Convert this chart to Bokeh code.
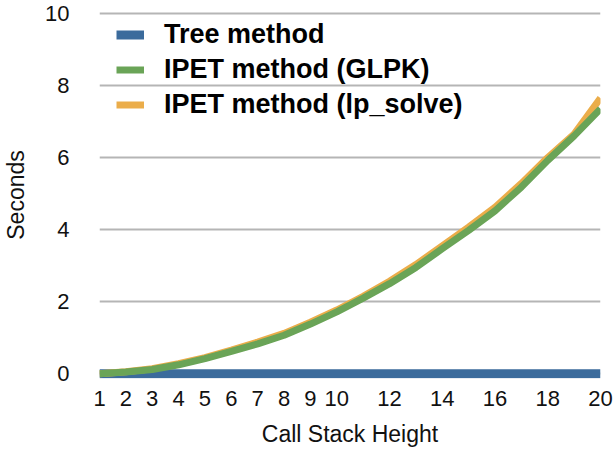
from bokeh.plotting import figure
from bokeh.models import Legend, LegendItem, FixedTicker, Range1d
from bokeh.embed import file_html
from bokeh.resources import INLINE

x = list(range(1, 21))
tree = [0.0] * 20
glpk = [0.0, 0.05, 0.12, 0.25, 0.42, 0.62, 0.83, 1.07, 1.38, 1.72,
        2.1, 2.5, 2.95, 3.47, 3.98, 4.52, 5.18, 5.92, 6.6, 7.35]
lpsolve = [0.0, 0.06, 0.14, 0.28, 0.45, 0.66, 0.88, 1.12, 1.43, 1.77,
           2.15, 2.57, 3.03, 3.55, 4.07, 4.62, 5.28, 6.0, 6.65, 7.65]
x_ticks = [1, 2, 3, 4, 5, 6, 7, 8, 9, 10, 12, 14, 16, 18, 20]
y_ticks = [0, 2, 4, 6, 8, 10]

FONT = "Liberation Sans"

p = figure(width=613, height=454, output_backend="svg", toolbar_location=None,
           x_range=Range1d(1, 20), y_range=Range1d(-0.13, 10.05),
           min_border_left=97, min_border_right=13, min_border_top=11,
           min_border_bottom=76)
p.outline_line_color = None
p.background_fill_color = "white"

p.xgrid.grid_line_color = None
p.ygrid.grid_line_color = "#b5b5b5"
p.ygrid.grid_line_width = 2
p.ygrid.ticker = FixedTicker(ticks=y_ticks)

for ax in (p.xaxis, p.yaxis):
    ax.axis_line_color = None
    ax.major_tick_line_color = None
    ax.minor_tick_line_color = None
    ax.major_tick_in = 0
    ax.major_tick_out = 0
    ax.major_label_text_font = FONT
    ax.major_label_text_font_size = "22px"
    ax.major_label_text_color = "#111111"
    ax.axis_label_text_font = FONT
    ax.axis_label_text_font_size = "23px"
    ax.axis_label_text_font_style = "normal"
    ax.axis_label_text_color = "#111111"

p.xaxis.ticker = FixedTicker(ticks=x_ticks)
p.yaxis.ticker = FixedTicker(ticks=y_ticks)
p.xaxis.axis_label = "Call Stack Height"
p.yaxis.axis_label = "Seconds"
p.xaxis.major_label_standoff = 12
p.xaxis.axis_label_standoff = 12
p.yaxis.major_label_standoff = 30
p.yaxis.axis_label_standoff = 13

r_tree = p.line(x, tree, line_color="#3b6b9c", line_width=9)
r_lp = p.line(x, lpsolve, line_color="#ebad4a", line_width=7)
r_glpk = p.line(x, glpk, line_color="#6aa457", line_width=7)

legend = Legend(items=[
    LegendItem(label="Tree method", renderers=[r_tree]),
    LegendItem(label="IPET method (GLPK)", renderers=[r_glpk]),
    LegendItem(label="IPET method (lp_solve)", renderers=[r_lp]),
], location=(17, 257))
legend.border_line_color = None
legend.background_fill_alpha = 0
legend.padding = 0
legend.margin = 0
legend.spacing = 2
legend.glyph_width = 28
legend.glyph_height = 33
legend.label_height = 33
legend.label_standoff = 20
legend.label_text_font = FONT
legend.label_text_font_style = "bold"
legend.label_text_font_size = "27px"
legend.label_text_color = "#000000"
p.add_layout(legend)

open("out.html", "w").write(file_html(p, INLINE))
